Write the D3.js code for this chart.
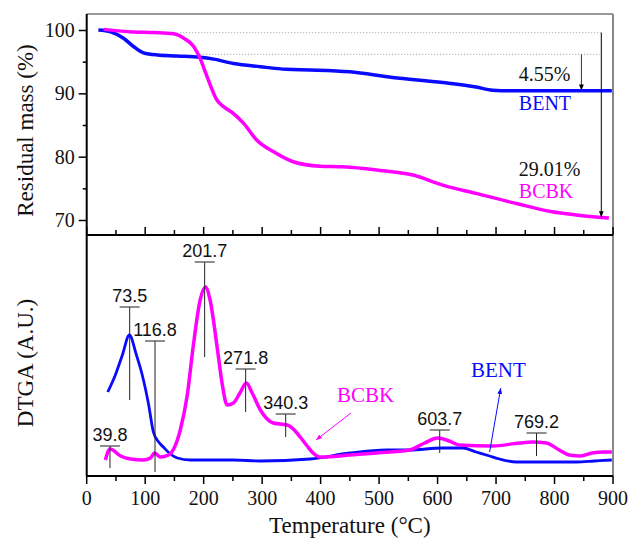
<!DOCTYPE html>
<html>
<head>
<meta charset="utf-8">
<script src="https://cdn.jsdelivr.net/npm/d3@7"></script>
<style>
  body { margin: 0; background: #fff; }
  svg { display: block; }
</style>
</head>
<body>
<div class="chart"></div>
<script>
// Données
// TG (masse résiduelle, %)
const bentTgT = [20, 41, 63, 80, 97, 121, 155, 194, 217, 251, 297, 342, 382, 450, 523, 609, 666, 694, 723, 800, 898]
const bentTgV = [100, 99.7, 98.7, 97.4, 96.4, 96.05, 95.9, 95.7, 95.4, 94.7, 94.2, 93.8, 93.7, 93.4, 92.5, 91.7, 91.0, 90.5, 90.4, 90.4, 90.4]
const bcbkTgT = [29, 80, 115, 149, 166, 183, 194, 206, 223, 234, 251, 268, 291, 319, 353, 399, 438, 496, 558, 609, 666, 735, 796, 837, 893]
const bcbkTgV = [100.1, 99.7, 99.6, 99.4, 98.7, 97.4, 95.5, 92.6, 88.9, 87.9, 86.8, 85.3, 82.6, 80.8, 79.2, 78.5, 78.4, 77.9, 77.1, 75.5, 74.2, 72.6, 71.3, 70.8, 70.3]

// DTGA (unités arbitraires)
const bcbkDtgT = [32, 39.8, 58, 75, 97, 109, 116, 126, 140, 160, 172, 182, 194, 203, 211, 223, 232, 240, 251, 262, 273, 283, 297, 319, 343, 355, 365, 377, 387, 399, 411, 450, 496, 552, 578, 600, 620, 637, 694, 740, 762, 786, 808, 825, 845, 864, 885, 898]
const bcbkDtgV = [17, 28, 21, 18, 17, 19, 24, 20, 22, 47, 82, 130, 177, 190, 177, 130, 92, 72, 74, 84, 94, 84, 67, 54, 52, 47, 40, 31, 24, 20, 20, 22, 24, 27, 34, 39, 36, 32, 31, 34, 35, 34, 27, 22, 21, 24, 25, 25]
const bentDtgT = [36, 49, 61, 73, 85, 95, 106, 114, 123, 131, 143, 155, 177, 251, 297, 382, 450, 513, 552, 608, 643, 666, 689, 706, 735, 837, 868, 898]
const bentDtgV = [85, 102, 122, 142, 122, 102, 72, 45, 35, 30, 23, 19, 17, 17, 16, 18, 24, 27, 27, 29, 29, 25, 21, 18, 15, 15, 16, 17]

// Pics annotés : température, haut du repère, bas du repère
const peakT = [39.8, 73.5, 116.8, 201.7, 271.8, 340.3, 603.7, 769.2]
const peakTop = [31, 170, 136, 215, 108, 63, 47, 44]
const peakBottom = [9, 77, 5, 120, 65, 40, 24, 21]

// Graduations
const xTicks = [0, 100, 200, 300, 400, 500, 600, 700, 800, 900]
const yTgTicks = [70, 80, 90, 100]

// Dimensions
const width = 632, height = 539
const left = 86.7, right = 613
const topY = 14, midY = 235, bottomY = 476

const blue = '#0a0aff', pink = '#ff00ff'
const serif = 'Liberation Serif, Times New Roman, serif'
const sans = 'Liberation Sans, Arial, sans-serif'

const svg = d3.select('.chart')
    .append('svg')
    .attr('width', width)
    .attr('height', height)

// Échelles
const x = d3.scaleLinear().domain([0, 900]).range([left, right])
const yTg = d3.scaleLinear().domain([70, 100]).range([220, 30])
const yDtg = d3.scaleLinear().domain([0, 242]).range([477, 235])

// Marqueur de flèche
const defs = svg.append('defs')
const addArrow = (id, color) => {
    defs.append('marker')
        .attr('id', id)
        .attr('viewBox', '0 0 10 10')
        .attr('refX', 10).attr('refY', 5)
        .attr('markerWidth', 6).attr('markerHeight', 6)
        .attr('markerUnits', 'userSpaceOnUse')
        .attr('orient', 'auto')
        .append('path')
        .attr('d', 'M0,1 L10,5 L0,9 Z')
        .attr('fill', color)
}
addArrow('arrK', '#000')
addArrow('arrB', blue)
addArrow('arrP', pink)

/**---------------------------------------------
 * Panneau du haut - TG
 *--------------------------------------------*/
const lineTg = d3.line()
    .x(d => x(d[0]))
    .y(d => yTg(d[1]))
    .curve(d3.curveMonotoneX)

// Lignes pointillées de référence
const refLines = [[99.57, 160, 880], [96.16, 194, 877]]
svg.append('g').selectAll('line')
    .data(refLines)
    .join('line')
    .attr('x1', d => x(d[1])).attr('x2', d => x(d[2]))
    .attr('y1', d => yTg(d[0])).attr('y2', d => yTg(d[0]))
    .attr('stroke', '#999')
    .attr('stroke-width', 1)
    .attr('stroke-dasharray', '1,2')

svg.append('path')
    .datum(bentTgT.map((t, i) => [t, bentTgV[i]]))
    .attr('d', lineTg)
    .attr('fill', 'none')
    .attr('stroke', blue)
    .attr('stroke-width', 3.5)

svg.append('path')
    .datum(bcbkTgT.map((t, i) => [t, bcbkTgV[i]]))
    .attr('d', lineTg)
    .attr('fill', 'none')
    .attr('stroke', pink)
    .attr('stroke-width', 3.5)

// Flèches de perte de masse
svg.append('line')
    .attr('x1', x(846)).attr('x2', x(846))
    .attr('y1', yTg(96.16)).attr('y2', yTg(90.45))
    .attr('stroke', '#333').attr('stroke-width', 1)
    .attr('marker-end', 'url(#arrK)')
svg.append('line')
    .attr('x1', x(880)).attr('x2', x(880))
    .attr('y1', yTg(99.57)).attr('y2', yTg(70.45))
    .attr('stroke', '#000').attr('stroke-width', 1)
    .attr('marker-end', 'url(#arrK)')

const tgLabels = [
    ['4.55%', 739, 91.95, '#111'],
    ['BENT', 739, 87.37, blue],
    ['29.01%', 739, 76.95, '#111'],
    ['BCBK', 739, 73.47, pink]
]
svg.append('g').selectAll('text')
    .data(tgLabels)
    .join('text')
    .attr('x', d => x(d[1]))
    .attr('y', d => yTg(d[2]))
    .attr('fill', d => d[3])
    .style('font-family', serif)
    .style('font-size', '20px')
    .text(d => d[0])

/**---------------------------------------------
 * Panneau du bas - DTGA
 *--------------------------------------------*/
const lineDtg = d3.line()
    .x(d => x(d[0]))
    .y(d => yDtg(d[1]))
    .curve(d3.curveMonotoneX)

svg.append('path')
    .datum(bentDtgT.map((t, i) => [t, bentDtgV[i]]))
    .attr('d', lineDtg)
    .attr('fill', 'none')
    .attr('stroke', blue)
    .attr('stroke-width', 2.8)

svg.append('path')
    .datum(bcbkDtgT.map((t, i) => [t, bcbkDtgV[i]]))
    .attr('d', lineDtg)
    .attr('fill', 'none')
    .attr('stroke', pink)
    .attr('stroke-width', 3.5)

// Repères des pics
const peaks = peakT.map((t, i) => ({ t: t, top: peakTop[i], bottom: peakBottom[i] }))
const gPeaks = svg.append('g')
gPeaks.selectAll('.stem')
    .data(peaks)
    .join('line')
    .attr('class', 'stem')
    .attr('x1', d => x(d.t)).attr('x2', d => x(d.t))
    .attr('y1', d => yDtg(d.top)).attr('y2', d => yDtg(d.bottom))
    .attr('stroke', '#222').attr('stroke-width', 1)
gPeaks.selectAll('.cap')
    .data(peaks)
    .join('line')
    .attr('class', 'cap')
    .attr('x1', d => x(d.t) - 10).attr('x2', d => x(d.t) + 10)
    .attr('y1', d => yDtg(d.top)).attr('y2', d => yDtg(d.top))
    .attr('stroke', '#444').attr('stroke-width', 1.2)
gPeaks.selectAll('text')
    .data(peaks)
    .join('text')
    .attr('x', d => x(d.t))
    .attr('y', d => yDtg(d.top) - 5)
    .attr('text-anchor', 'middle')
    .style('font-family', sans)
    .style('font-size', '18px')
    .attr('fill', '#111')
    .text(d => d.t.toFixed(1))

// Étiquettes et flèches des courbes
svg.append('text')
    .attr('x', x(428)).attr('y', yDtg(75))
    .attr('fill', pink)
    .style('font-family', serif).style('font-size', '21px')
    .text('BCBK')
svg.append('line')
    .attr('x1', x(452)).attr('y1', yDtg(64))
    .attr('x2', x(392)).attr('y2', yDtg(37))
    .attr('stroke', pink).attr('stroke-width', 1)
    .attr('marker-end', 'url(#arrP)')
svg.append('text')
    .attr('x', x(657)).attr('y', yDtg(100))
    .attr('fill', blue)
    .style('font-family', serif).style('font-size', '21px')
    .text('BENT')
svg.append('line')
    .attr('x1', x(689)).attr('y1', yDtg(25))
    .attr('x2', x(708)).attr('y2', yDtg(89))
    .attr('stroke', blue).attr('stroke-width', 1)
    .attr('marker-end', 'url(#arrB)')

/**---------------------------------------------
 * Axes et cadres
 *--------------------------------------------*/
// Cadres gris (haut et droite)
svg.append('line')
    .attr('x1', left).attr('x2', right)
    .attr('y1', topY).attr('y2', topY)
    .attr('stroke', '#777').attr('stroke-width', 1.5)
svg.append('line')
    .attr('x1', right).attr('x2', right)
    .attr('y1', topY).attr('y2', bottomY)
    .attr('stroke', '#888').attr('stroke-width', 2)

// Axe Y du haut
const yAxisTop = svg.append('g')
    .attr('transform', `translate(${left},0)`)
    .call(d3.axisLeft(yTg).tickValues(yTgTicks).tickSize(8).tickPadding(4).tickFormat(d3.format('d')))
yAxisTop.select('.domain').remove()
yAxisTop.selectAll('line').attr('stroke', '#000').attr('stroke-width', 1.5)
yAxisTop.selectAll('text')
    .style('font-family', serif).style('font-size', '20px').attr('fill', '#111')
svg.append('g')
    .attr('transform', `translate(${left},0)`)
    .call(d3.axisLeft(yTg).tickValues([75, 85, 95]).tickSize(4).tickFormat(''))
    .call(g => g.select('.domain').remove())
    .selectAll('line').attr('stroke', '#000').attr('stroke-width', 1.5)

// Axe gauche continu
svg.append('line')
    .attr('x1', left).attr('x2', left)
    .attr('y1', topY).attr('y2', bottomY)
    .attr('stroke', '#000').attr('stroke-width', 2)

// Axe X du panneau du haut (graduations vers l'intérieur)
const minorTicks = d3.range(50, 900, 100)
const drawXTicks = (y0, dir, labels) => {
    const g = svg.append('g').attr('transform', `translate(0,${y0})`)
    g.append('line')
        .attr('x1', left).attr('x2', right)
        .attr('stroke', '#000').attr('stroke-width', 2)
    g.selectAll('.maj')
        .data(xTicks)
        .join('line')
        .attr('class', 'maj')
        .attr('x1', d => x(d)).attr('x2', d => x(d))
        .attr('y1', 0).attr('y2', dir * 8)
        .attr('stroke', '#000').attr('stroke-width', 1.5)
    g.selectAll('.min')
        .data(minorTicks)
        .join('line')
        .attr('class', 'min')
        .attr('x1', d => x(d)).attr('x2', d => x(d))
        .attr('y1', 0).attr('y2', dir * 5)
        .attr('stroke', '#000').attr('stroke-width', 1.5)
    if (labels) {
        g.selectAll('text')
            .data(xTicks)
            .join('text')
            .attr('x', d => x(d))
            .attr('y', 29)
            .attr('text-anchor', 'middle')
            .style('font-family', serif).style('font-size', '20px')
            .attr('fill', '#111')
            .text(d => d)
    }
}
drawXTicks(midY, -1, false)
drawXTicks(bottomY, 1, true)

// Titres des axes
svg.append('text')
    .attr('transform', `translate(33,${(topY + midY) / 2 + 6}) rotate(-90)`)
    .attr('text-anchor', 'middle')
    .style('font-family', serif).style('font-size', '23px')
    .attr('fill', '#111')
    .text('Residual mass (%)')
svg.append('text')
    .attr('transform', `translate(33,363) rotate(-90)`)
    .attr('text-anchor', 'middle')
    .style('font-family', serif).style('font-size', '23px')
    .attr('fill', '#111')
    .text('DTGA (A.U.)')
svg.append('text')
    .attr('x', (left + right) / 2)
    .attr('y', 533)
    .attr('text-anchor', 'middle')
    .style('font-family', serif).style('font-size', '23px')
    .attr('fill', '#111')
    .text('Temperature (°C)')
</script>
</body>
</html>
